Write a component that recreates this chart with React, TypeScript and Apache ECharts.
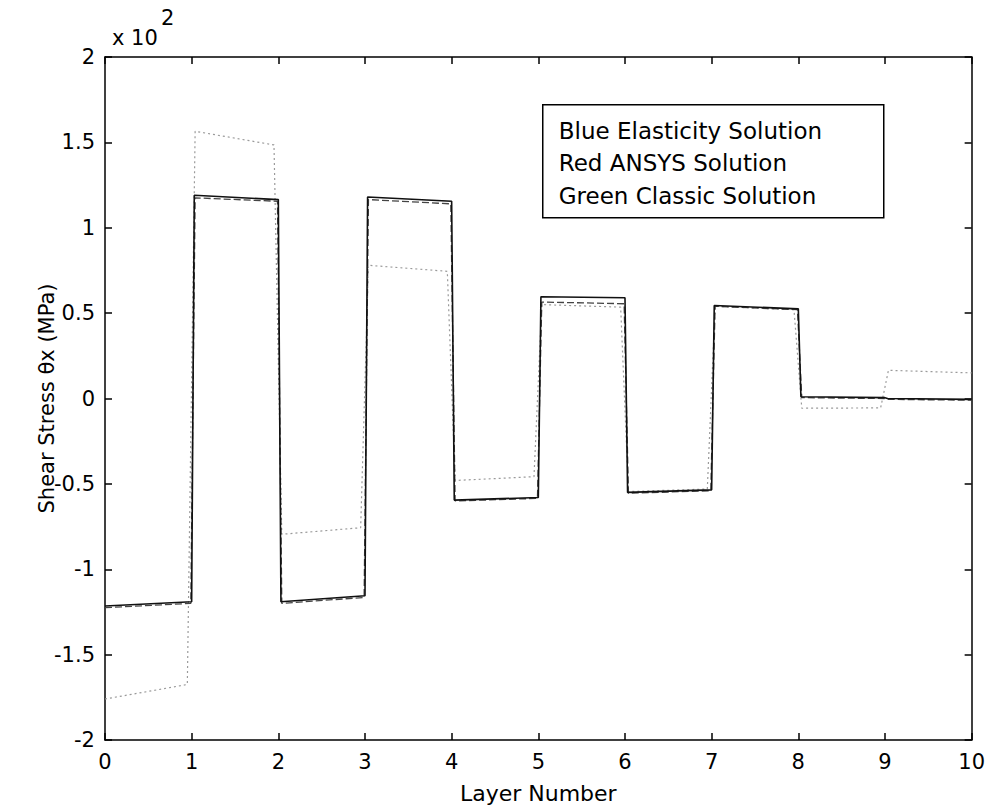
import React, { useEffect, useRef } from "react";
import * as echarts from "echarts";

// Layer indices (x axis: Layer Number)
const layers = [0, 1, 2, 3, 4, 5, 6, 7, 8, 9];

// Shear stress values (x 10^2 MPa) at start and end of each layer
const elasticityStart = [-1.215, 1.19, -1.19, 1.18, -0.595, 0.596, -0.55, 0.545, 0.01, 0.0];
const elasticityEnd = [-1.19, 1.165, -1.155, 1.155, -0.58, 0.59, -0.535, 0.525, 0.005, -0.005];

const ansysStart = [-1.225, 1.175, -1.2, 1.165, -0.6, 0.565, -0.555, 0.54, 0.005, -0.005];
const ansysEnd = [-1.2, 1.155, -1.165, 1.14, -0.585, 0.555, -0.54, 0.52, 0.0, -0.01];

const classicStart = [-1.76, 1.565, -0.795, 0.78, -0.48, 0.55, -0.545, 0.54, -0.057, 0.165];
const classicEnd = [-1.675, 1.485, -0.757, 0.745, -0.458, 0.535, -0.53, 0.52, -0.055, 0.15];

const xTicks = [0, 1, 2, 3, 4, 5, 6, 7, 8, 9, 10];
const yTicks = [-2, -1.5, -1, -0.5, 0, 0.5, 1, 1.5, 2];

const legendLines = [
  "Blue Elasticity Solution",
  "Red ANSYS Solution",
  "Green Classic Solution",
];

function buildSteps(starts: number[], ends: number[], startOff: number, endOff: number) {
  const pts: number[][] = [];
  layers.forEach((l, i) => {
    pts.push([l === 0 ? 0 : l + startOff, starts[i]]);
    pts.push([l === 9 ? 10 : l + 1 - endOff, ends[i]]);
  });
  return pts;
}

export default function App() {
  const ref = useRef<HTMLDivElement>(null);
  useEffect(() => {
    if (!ref.current) return;
    const chart = echarts.init(ref.current, undefined, { renderer: "svg" });
    const font = "DejaVu Sans";
    const xRange = {
      min: xTicks[0],
      max: xTicks[xTicks.length - 1],
      interval: 1,
    };
    const yRange = {
      min: yTicks[0],
      max: yTicks[yTicks.length - 1],
      interval: 0.5,
    };
    const axisLine = { show: true, onZero: false, lineStyle: { color: "#000", width: 1.5 } };
    const axisTick = { show: true, inside: true, length: 7, lineStyle: { color: "#000", width: 1.5 } };
    chart.setOption({
      animation: false,
      backgroundColor: "#fff",
      grid: { left: 105, right: 13, top: 57, bottom: 70, show: false },
      xAxis: [
        {
          type: "value",
          ...xRange,
          position: "bottom",
          axisLine,
          axisTick,
          splitLine: { show: false },
          axisLabel: { color: "#000", fontFamily: font, fontSize: 21, margin: 11 },
          name: "Layer Number",
          nameLocation: "middle",
          nameGap: 42,
          nameMoveOverlap: false,
          nameTextStyle: { color: "#000", fontFamily: font, fontSize: 22 },
        },
        {
          type: "value",
          ...xRange,
          position: "top",
          axisLine,
          axisTick,
          splitLine: { show: false },
          axisLabel: { show: false },
        },
      ],
      yAxis: [
        {
          type: "value",
          ...yRange,
          position: "left",
          axisLine,
          axisTick,
          splitLine: { show: false },
          axisLabel: { color: "#000", fontFamily: font, fontSize: 21, margin: 10 },
          name: "Shear Stress θx (MPa)",
          nameLocation: "middle",
          nameGap: 48,
          nameMoveOverlap: false,
          nameTextStyle: { color: "#000", fontFamily: font, fontSize: 21 },
        },
        {
          type: "value",
          ...yRange,
          position: "right",
          axisLine,
          axisTick,
          splitLine: { show: false },
          axisLabel: { show: false },
        },
      ],
      series: [
        {
          name: "Classic",
          type: "line",
          data: buildSteps(classicStart, classicEnd, 0.04, 0.05),
          symbol: "none",
          lineStyle: { color: "#9a9a9a", width: 1.2, type: [2, 3] },
          z: 1,
        },
        {
          name: "ANSYS",
          type: "line",
          data: buildSteps(ansysStart, ansysEnd, 0.04, 0.01),
          symbol: "none",
          lineStyle: { color: "#444", width: 1.3, type: [7, 3] },
          z: 2,
        },
        {
          name: "Elasticity",
          type: "line",
          data: buildSteps(elasticityStart, elasticityEnd, 0.03, 0.0),
          symbol: "none",
          lineStyle: { color: "#111", width: 1.6 },
          z: 3,
        },
      ],
      graphic: [
        {
          type: "text",
          left: 112,
          top: 27,
          style: { text: "x 10", fill: "#000", font: `21px "${font}"` },
        },
        {
          type: "text",
          left: 161,
          top: 7,
          style: { text: "2", fill: "#000", font: `21px "${font}"` },
        },
        {
          type: "group",
          left: 542,
          top: 104,
          children: [
            {
              type: "rect",
              shape: { x: 0, y: 0, width: 341, height: 113 },
              style: { fill: "#fff", stroke: "#000", lineWidth: 1.5 },
            },
            ...legendLines.map((t, i) => ({
              type: "text",
              x: 16,
              y: 26 + i * 32.5,
              style: {
                text: t,
                fill: "#000",
                font: `23px "${font}"`,
                verticalAlign: "middle",
              },
            })),
          ],
        },
      ],
    });
    return () => chart.dispose();
  }, []);
  return (
    <div
      ref={ref}
      style={{ position: "fixed", left: 0, top: 0, width: 988, height: 810, background: "#fff" }}
    />
  );
}
